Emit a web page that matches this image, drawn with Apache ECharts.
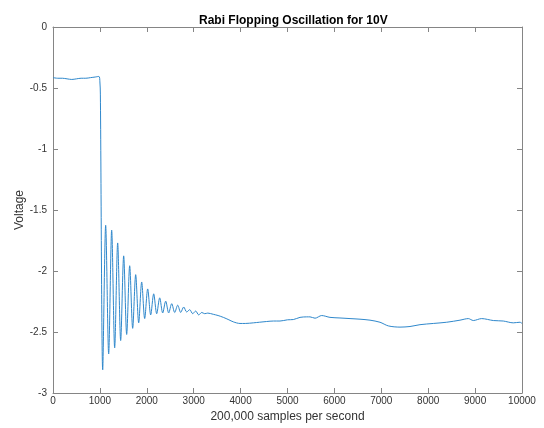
<!DOCTYPE html>
<html>
<head>
<meta charset="utf-8">
<script src="https://cdn.jsdelivr.net/npm/echarts@6/dist/echarts.min.js"></script>
<style>html,body{margin:0;padding:0;background:#fff}#c{width:544px;height:428px}</style>
</head>
<body>
<div id="c"></div>
<script>
const titleText = 'Rabi Flopping Oscillation for 10V';
const xName = '200,000 samples per second';
const yName = 'Voltage';
const xTicks = [0, 1000, 2000, 3000, 4000, 5000, 6000, 7000, 8000, 9000, 10000];
const yTicks = [-3, -2.5, -2, -1.5, -1, -0.5, 0];

const sampleIdx = [
  0, 100, 200, 300, 400, 500, 600, 700, 800, 900, 980, 1000, 1010, 1060,
  1123, 1187, 1251, 1315, 1379, 1443, 1507, 1571, 1635, 1699, 1763, 1827,
  1891, 1955, 2019, 2083, 2147, 2211, 2275, 2339, 2403, 2467, 2531, 2595,
  2659, 2723, 2787, 2851, 2915, 2979, 3043, 3107, 3171, 3235, 3300, 3418,
  3520, 3632, 3750, 3845, 3987, 4100, 4271, 4400, 4556, 4700, 4840, 5000,
  5124, 5267, 5409, 5480, 5587, 5729, 5906, 6119, 6333, 6546, 6759, 6972,
  7150, 7399, 7612, 7825, 8109, 8394, 8678, 8855, 8962, 9140, 9388, 9601,
  9814, 9957, 10000
];
const voltage = [
  -0.415, -0.42, -0.42, -0.425, -0.43, -0.425, -0.42, -0.42, -0.415, -0.41, -0.405, -0.45, -0.55, -2.81,
  -1.625, -2.68, -1.665, -2.63, -1.77, -2.57, -1.876, -2.52, -1.957, -2.47, -2.03, -2.425,
  -2.09, -2.39, -2.147, -2.36, -2.187, -2.35, -2.22, -2.344, -2.247, -2.344, -2.268, -2.34,
  -2.28, -2.34, -2.295, -2.336, -2.317, -2.35, -2.328, -2.36, -2.34, -2.35, -2.345, -2.355,
  -2.365, -2.38, -2.40, -2.417, -2.43, -2.43, -2.425, -2.42, -2.414, -2.41, -2.41, -2.40,
  -2.398, -2.38, -2.376, -2.376, -2.387, -2.365, -2.38, -2.385, -2.39, -2.395, -2.403, -2.42,
  -2.45, -2.46, -2.455, -2.44, -2.43, -2.42, -2.403, -2.39, -2.406, -2.39, -2.406, -2.41,
  -2.425, -2.42, -2.43
];

const chart = echarts.init(document.getElementById('c'), null, {renderer: 'canvas'});
const FONT = '"Liberation Sans", Arial, Helvetica, sans-serif';
const axisColor = '#858585';
const labelColor = '#333333';

function xAx(extra) {
  return Object.assign({
    type: 'value', min: xTicks[0], max: xTicks[xTicks.length - 1], interval: 1000,
    axisLine: {show: true, onZero: false, lineStyle: {color: axisColor, width: 1}},
    axisTick: {show: true, inside: true, length: 5, lineStyle: {color: axisColor}},
    splitLine: {show: false}
  }, extra);
}
function yAx(extra) {
  return Object.assign({
    type: 'value', min: yTicks[0], max: yTicks[yTicks.length - 1], interval: 0.5,
    axisLine: {show: true, onZero: false, lineStyle: {color: axisColor, width: 1}},
    axisTick: {show: true, inside: true, length: 5, lineStyle: {color: axisColor}},
    splitLine: {show: false}
  }, extra);
}

chart.setOption({
  animation: false,
  backgroundColor: '#ffffff',
  title: {
    text: titleText, left: 194, top: 10,
    textStyle: {fontFamily: FONT, fontSize: 12, fontWeight: 'bold', color: '#000'}
  },
  grid: {left: 53, right: 22, top: 27, bottom: 31},
  xAxis: [
    xAx({
      position: 'bottom',
      axisLabel: {fontFamily: FONT, fontSize: 10, color: labelColor, margin: 3,
                  formatter: v => String(v)},
      name: xName, nameLocation: 'middle', nameGap: 18, nameMoveOverlap: false,
      nameTextStyle: {fontFamily: FONT, fontSize: 12, color: labelColor}
    }),
    xAx({position: 'top', axisLabel: {show: false}})
  ],
  yAxis: [
    yAx({
      position: 'left',
      axisLabel: {fontFamily: FONT, fontSize: 10, color: labelColor, margin: 6,
                  formatter: v => String(v)},
      name: yName, nameLocation: 'middle', nameGap: 27, nameMoveOverlap: false,
      nameTextStyle: {fontFamily: FONT, fontSize: 12, color: labelColor}
    }),
    yAx({position: 'right', axisLabel: {show: false}})
  ],
  series: [{
    type: 'line',
    xAxisIndex: 0, yAxisIndex: 0,
    data: sampleIdx.map((x, i) => [x, voltage[i]]),
    showSymbol: false,
    smooth: 0.3,
    lineStyle: {color: '#2f88cc', width: 1},
    itemStyle: {color: '#2f88cc'}
  }]
});
</script>
</body>
</html>
